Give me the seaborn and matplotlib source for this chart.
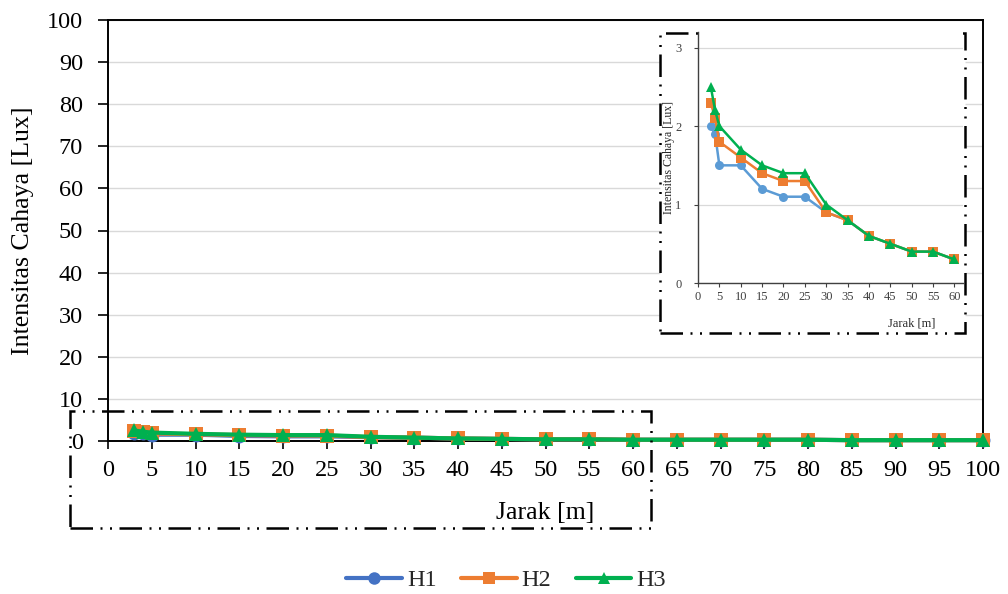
import numpy as np
import pandas as pd
import matplotlib
matplotlib.use("Agg")
import matplotlib.pyplot as plt
from matplotlib.patches import Rectangle
from matplotlib.lines import Line2D
import seaborn as sns

# ---- data ----
jarak = [3, 4, 5, 10, 15, 20, 25, 30, 35, 40, 45, 50, 55, 60,
         65, 70, 75, 80, 85, 90, 95, 100]
h1 = [2.0, 1.9, 1.5, 1.5, 1.2, 1.1, 1.1, 0.9, 0.8, 0.6, 0.5, 0.4, 0.4, 0.3,
      0.3, 0.3, 0.3, 0.3, 0.2, 0.2, 0.2, 0.2]
h2 = [2.3, 2.1, 1.8, 1.6, 1.4, 1.3, 1.3, 0.9, 0.8, 0.6, 0.5, 0.4, 0.4, 0.3,
      0.3, 0.3, 0.3, 0.3, 0.2, 0.2, 0.2, 0.2]
h3 = [2.5, 2.2, 2.0, 1.7, 1.5, 1.4, 1.4, 1.0, 0.8, 0.6, 0.5, 0.4, 0.4, 0.3,
      0.3, 0.3, 0.3, 0.3, 0.2, 0.2, 0.2, 0.2]
series_names = ["H1", "H2", "H3"]
main_xticks = list(range(0, 101, 5))
main_yticks = list(range(0, 101, 10))
inset_xticks = list(range(0, 61, 5))
inset_yticks = [0, 1, 2, 3]

colors = ["#4472C4", "#ED7D31", "#00B050"]
inset_colors = ["#5B9BD5", "#ED7D31", "#00B050"]
markers = ["o", "s", "^"]

df = pd.DataFrame({
    "Jarak": jarak * 3,
    "val": h1 + h2 + h3,
    "series": sum([[n] * len(jarak) for n in series_names], []),
})
df_in = df[df["Jarak"] <= 60]

sns.set_theme(style="white")
plt.rcParams["font.family"] = ["Liberation Serif", "DejaVu Serif"]

W, H = 1008, 594
fig = plt.figure(figsize=(W / 100, H / 100), dpi=100)

def fx(px):
    return px / W

def fy(py):
    return 1 - py / H

# ---- main axes ----
L, R, T, B = 108, 983, 20, 441
ax = fig.add_axes([fx(L), fy(B), fx(R) - fx(L), fy(T) - fy(B)])
ax.set_zorder(0)
for name, c, m in zip(series_names, colors, markers):
    sub = df[df["series"] == name]
    sns.lineplot(data=sub, x="Jarak", y="val", color=c, marker=m,
                 markersize=10, linewidth=3, markeredgewidth=0,
                 ax=ax, legend=False, clip_on=False, zorder=3)
ax.set_xlim(0, 100)
ax.set_ylim(0, 100)
ax.set_xticks(main_xticks)
ax.set_yticks(main_yticks)
ax.grid(axis="y", color="#D9D9D9", linewidth=1)
ax.grid(axis="x", visible=False)
for s in ax.spines.values():
    s.set_visible(True)
    s.set_color("black")
    s.set_linewidth(1.4)
ax.tick_params(axis="x", direction="out", length=6, width=1.2, pad=8,
               labelsize=17.5, colors="black", bottom=True)
ax.tick_params(axis="y", direction="out", length=7, width=1.2, pad=11,
               labelsize=17.5, colors="black", left=True)
ax.set_xlabel("Jarak [m]", fontsize=18.6, color="black", labelpad=15)
ax.set_ylabel("Intensitas Cahaya [Lux]", fontsize=18.6, color="black", labelpad=9)

# legend
handles = [Line2D([0], [0], color=c, marker=m, markersize=9, linewidth=3,
                  markeredgewidth=0) for c, m in zip(colors, markers)]
fig.legend(handles, series_names, loc="center", bbox_to_anchor=(fx(506), fy(580)),
           ncol=3, frameon=False, fontsize=17.5, handlelength=2.3,
           columnspacing=1.0, handletextpad=0.2)

# ---- inset white region with dash-dot-dot frame ----
dash = (0, (9, 3, 0.8, 3, 0.8, 3))
fig.patches.append(Rectangle((fx(660), fy(333)), fx(965) - fx(660), fy(33) - fy(333),
                             transform=fig.transFigure, facecolor="white",
                             edgecolor="black", linewidth=1.8, linestyle=dash,
                             zorder=1))
fig.patches.append(Rectangle((fx(70), fy(528)), fx(651) - fx(70), fy(411) - fy(528),
                             transform=fig.transFigure, facecolor="none",
                             edgecolor="black", linewidth=1.8, linestyle=dash,
                             zorder=1))

# ---- inset axes ----
iL, iR, iT, iB = 698, 963, 32, 283
ax2 = fig.add_axes([fx(iL), fy(iB), fx(iR) - fx(iL), fy(iT) - fy(iB)])
ax2.set_zorder(2)
ax2.set_facecolor("white")
for name, c, m in zip(series_names, inset_colors, markers):
    sub = df_in[df_in["series"] == name]
    sns.lineplot(data=sub, x="Jarak", y="val", color=c, marker=m,
                 markersize=6.5, linewidth=1.8, markeredgewidth=0,
                 ax=ax2, legend=False, clip_on=False, zorder=3)
ax2.set_xlim(0, 62)
ax2.set_ylim(0, 3.2)
ax2.set_xticks(inset_xticks)
ax2.set_yticks(inset_yticks)
ax2.grid(axis="y", color="#D9D9D9", linewidth=0.9)
ax2.grid(axis="x", visible=False)
ax2.spines["top"].set_visible(False)
ax2.spines["right"].set_visible(False)
for s in ["left", "bottom"]:
    ax2.spines[s].set_visible(True)
    ax2.spines[s].set_color("#404040")
    ax2.spines[s].set_linewidth(1.0)
ax2.tick_params(axis="both", direction="out", length=3, width=0.8, pad=3,
                labelsize=9, colors="#404040", bottom=True, left=True)
ax2.tick_params(axis="y", pad=9)
ax2.set_xlabel("Jarak [m]", fontsize=9, color="#262626")
ax2.xaxis.set_label_coords((912 - iL) / (iR - iL), (iB - 318) / (iB - iT))
ax2.set_ylabel("Intensitas Cahaya [Lux]", fontsize=8.5, color="#262626")
ax2.yaxis.set_label_coords((675 - iL) / (iR - iL), (iB - 158) / (iB - iT))

fig.savefig("out.png", dpi=100)
